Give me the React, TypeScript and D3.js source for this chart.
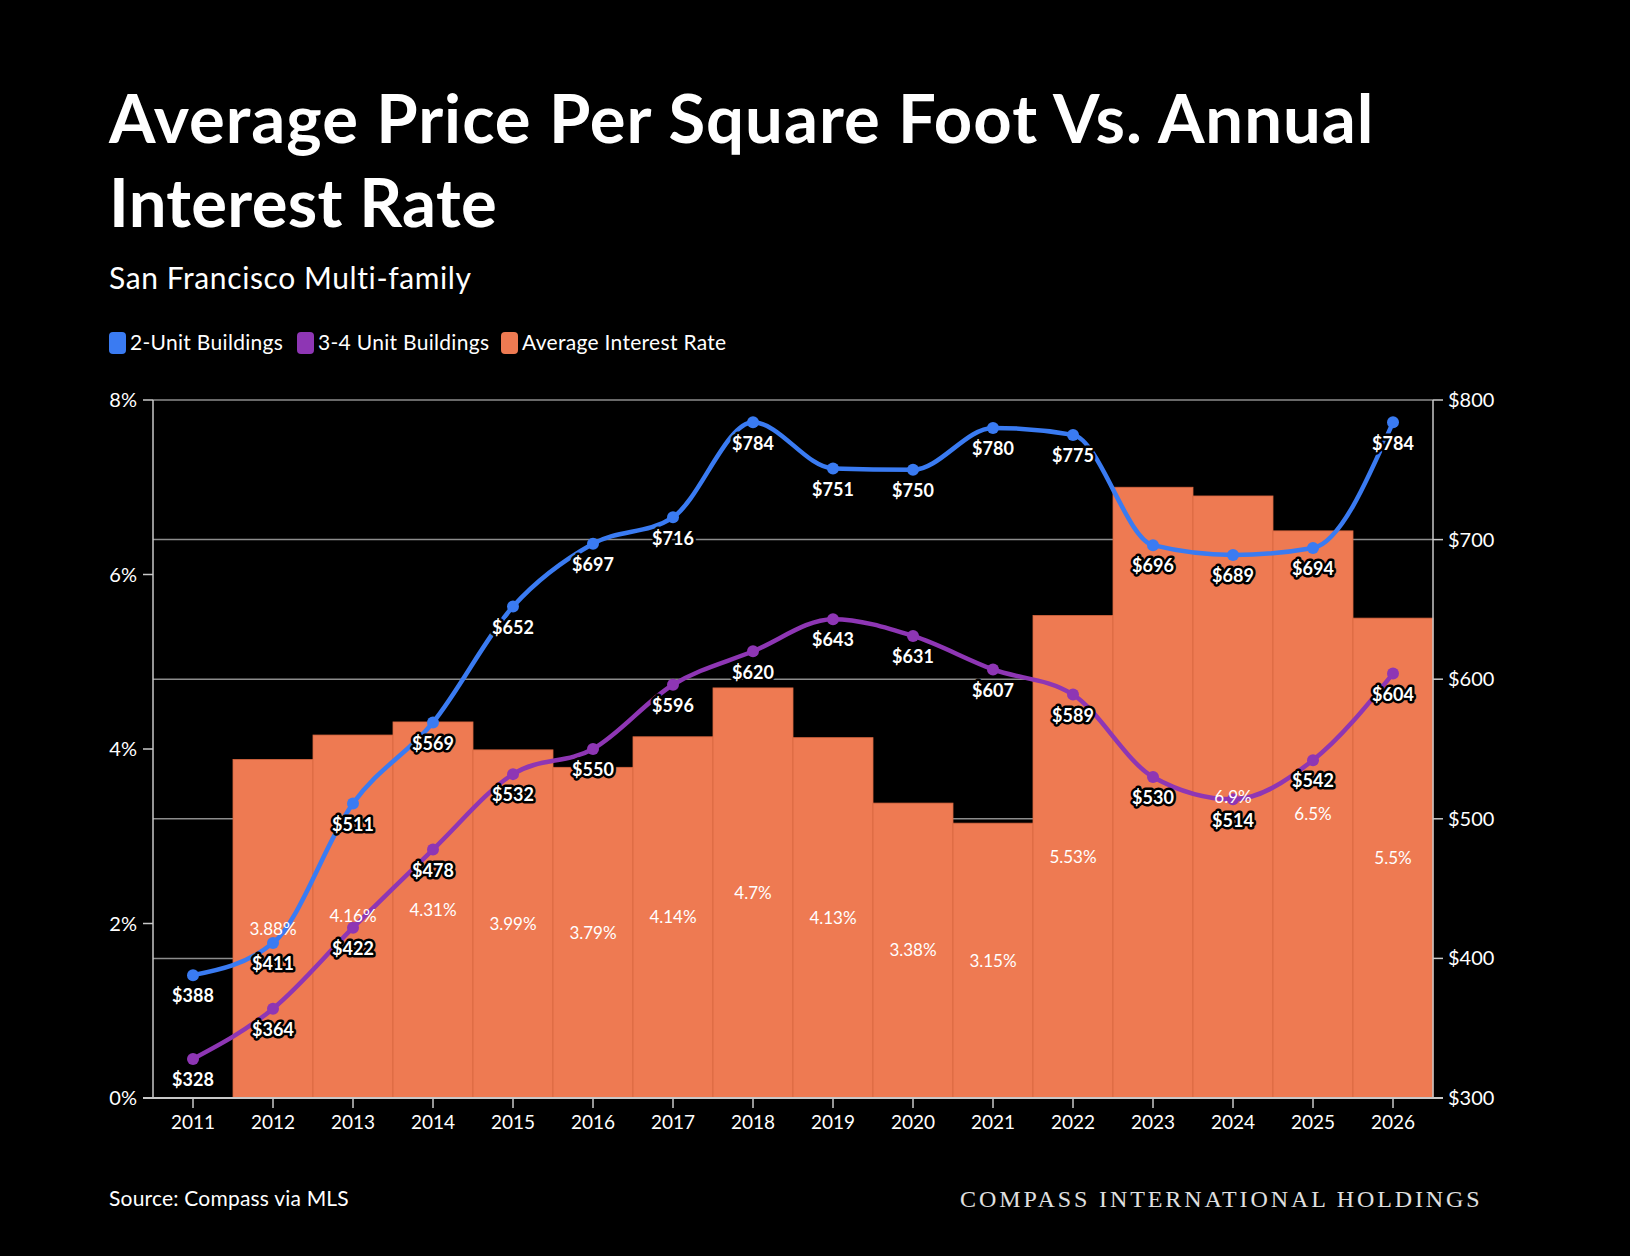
import * as d3 from "d3";
import { useLayoutEffect } from "react";

const years = ["2011", "2012", "2013", "2014", "2015", "2016", "2017", "2018", "2019", "2020", "2021", "2022", "2023", "2024", "2025", "2026"];
const twoUnit = [388, 411, 511, 569, 652, 697, 716, 784, 751, 750, 780, 775, 696, 689, 694, 784];
const threeFourUnit = [328, 364, 422, 478, 532, 550, 596, 620, 643, 631, 607, 589, 530, 514, 542, 604];
const interestRate: (number | null)[] = [null, 3.88, 4.16, 4.31, 3.99, 3.79, 4.14, 4.7, 4.13, 3.38, 3.15, 5.53, 7.0, 6.9, 6.5, 5.5];
const rateTicks = [0, 2, 4, 6, 8];
const priceTicks = [300, 400, 500, 600, 700, 800];

const W = 1630;
const H = 1256;
const LEFT = 153;
const RIGHT = 1433;
const TOP = 400;
const BOTTOM = 1098;

const BLUE = "#3a7bf2";
const PURPLE = "#8e36b4";
const ORANGE = "#ee7a52";
const FONT = "Lato, 'Open Sans', sans-serif";

const x = d3.scaleBand<string>().domain(years).range([LEFT, RIGHT]).padding(0);
const yRate = d3.scaleLinear().domain([0, 8]).range([BOTTOM, TOP]);
const yPrice = d3.scaleLinear().domain([300, 800]).range([BOTTOM, TOP]);
const cx = (y: string) => (x(y) || 0) + x.bandwidth() / 2;

const line = d3
  .line<number>()
  .x((_, i) => cx(years[i]))
  .y((d) => yPrice(d))
  .curve(d3.curveMonotoneX);

const legend = [
  { label: "2-Unit Buildings", color: BLUE, x: 109 },
  { label: "3-4 Unit Buildings", color: PURPLE, x: 297 },
  { label: "Average Interest Rate", color: ORANGE, x: 501 },
];

const App = () => {
  useLayoutEffect(() => {
    document.body.style.margin = "0";
    document.body.style.background = "#000";
  }, []);

  const series = [
    { values: twoUnit, color: BLUE },
    { values: threeFourUnit, color: PURPLE },
  ];

  // bar labels that sit right under a price label are dropped
  const priceLabelY = (i: number) =>
    series.map((s) => yPrice(s.values[i]) + 21);

  return (
    <svg width={W} height={H} style={{ display: "block", background: "#000" }} fontFamily={FONT}>
      <text x={109} y={143} fill="#fff" fontSize={67} fontWeight={700} letterSpacing={1}>
        Average Price Per Square Foot Vs. Annual
      </text>
      <text x={109} y={227} fill="#fff" fontSize={67} fontWeight={700} letterSpacing={0.3}>
        Interest Rate
      </text>
      <text x={109} y={289} fill="#fff" fontSize={30} letterSpacing={0.6}>
        San Francisco Multi-family
      </text>

      {legend.map((l) => (
        <g key={l.label} transform={`translate(${l.x}, 343)`}>
          <rect x={0} y={-11} width={17} height={22} rx={4} fill={l.color} />
          <text x={21} y={0} dy="0.35em" fill="#fff" fontSize={21} letterSpacing={0.3}>
            {l.label}
          </text>
        </g>
      ))}

      {/* gridlines */}
      {priceTicks.slice(1).map((t) => (
        <line key={t} x1={LEFT} x2={RIGHT} y1={yPrice(t)} y2={yPrice(t)} stroke="#8c8c8c" strokeWidth={1.5} />
      ))}

      {/* bars */}
      {interestRate.map((v, i) =>
        v == null ? null : (
          <rect
            key={years[i]}
            x={x(years[i])}
            y={yRate(v)}
            width={x.bandwidth()}
            height={BOTTOM - yRate(v)}
            fill={ORANGE}
            stroke="#d7663f"
            strokeWidth={0.8}
          />
        )
      )}

      {/* axes */}
      <line x1={LEFT} x2={LEFT} y1={TOP} y2={BOTTOM} stroke="#c8c8c8" strokeWidth={1.5} />
      <line x1={RIGHT} x2={RIGHT} y1={TOP} y2={BOTTOM} stroke="#c8c8c8" strokeWidth={1.5} />
      <line x1={LEFT - 10} x2={RIGHT + 10} y1={BOTTOM} y2={BOTTOM} stroke="#c8c8c8" strokeWidth={2} />
      {rateTicks.map((t) => (
        <g key={t} transform={`translate(${LEFT}, ${yRate(t)})`}>
          <line x1={-10} x2={0} stroke="#c8c8c8" strokeWidth={1.5} />
          <text x={-16} dy="0.35em" textAnchor="end" fill="#fff" fontSize={20}>
            {`${t}%`}
          </text>
        </g>
      ))}
      {priceTicks.map((t) => (
        <g key={t} transform={`translate(${RIGHT}, ${yPrice(t)})`}>
          <line x1={0} x2={10} stroke="#c8c8c8" strokeWidth={1.5} />
          <text x={15} dy="0.35em" fill="#fff" fontSize={20}>
            {`$${t}`}
          </text>
        </g>
      ))}
      {years.map((yr) => (
        <g key={yr} transform={`translate(${cx(yr)}, ${BOTTOM})`}>
          <line y1={0} y2={10} stroke="#c8c8c8" strokeWidth={1.5} />
          <text y={24} dy="0.35em" textAnchor="middle" fill="#fff" fontSize={19}>
            {yr}
          </text>
        </g>
      ))}

      {/* lines */}
      {series.map((s) => (
        <g key={s.color}>
          <path d={line(s.values) || ""} fill="none" stroke={s.color} strokeWidth={4.5} />
          {s.values.map((v, i) => (
            <circle key={i} cx={cx(years[i])} cy={yPrice(v)} r={6} fill={s.color} />
          ))}
        </g>
      ))}

      {/* bar value labels, above the lines */}
      {interestRate.map((v, i) => {
        if (v == null) return null;
        const ly = (yRate(v) + BOTTOM) / 2;
        if (priceLabelY(i).some((py) => Math.abs(py - ly) < 12)) return null;
        return (
          <text key={years[i]} x={cx(years[i])} y={ly} dy="0.35em" textAnchor="middle" fill="#fff" fontSize={17}>
            {`${v}%`}
          </text>
        );
      })}

      {series.map((s) =>
        s.values.map((v, i) => (
          <text
            key={s.color + i}
            x={cx(years[i])}
            y={yPrice(v) + 21}
            dy="0.35em"
            textAnchor="middle"
            fill="#fff"
            stroke="#000"
            strokeWidth={5}
            strokeLinejoin="round"
            paintOrder="stroke"
            fontSize={18}
            fontWeight={700}
          >
            {`$${v}`}
          </text>
        ))
      )}

      <text x={109} y={1199} dy="0.35em" fill="#fff" fontSize={21} letterSpacing={0.2}>
        Source: Compass via MLS
      </text>
      <text x={960} y={1199} dy="0.35em" fill="#e0e0e0" fontSize={24} letterSpacing={2.9} fontFamily="'Liberation Serif', 'DejaVu Serif', serif">
        COMPASS INTERNATIONAL HOLDINGS
      </text>
    </svg>
  );
};

export default App;
